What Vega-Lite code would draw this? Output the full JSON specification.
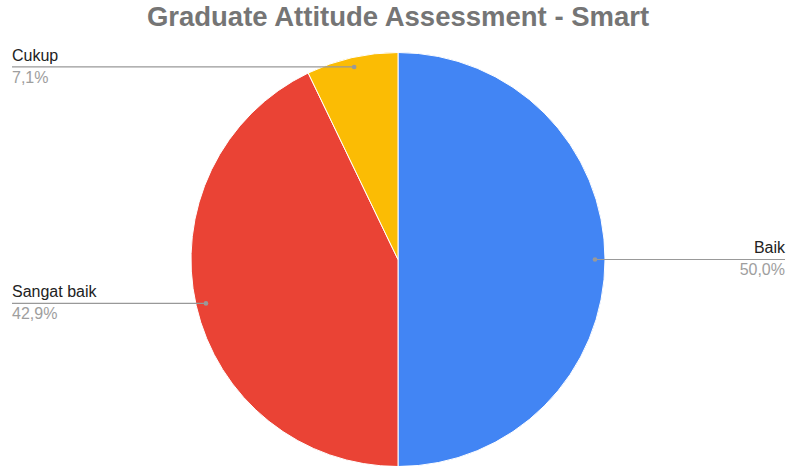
{
  "$schema": "https://vega.github.io/schema/vega-lite/v6.json",
  "autosize": {"type": "fit", "contains": "padding"},
  "width": 787,
  "height": 466,
  "padding": {"left": 9, "top": 6, "right": 0, "bottom": 0},
  "background": "white",
  "title": {
    "text": "Graduate Attitude Assessment - Smart",
    "font": "Liberation Sans",
    "fontSize": 27.5,
    "fontWeight": "bold",
    "color": "#757575",
    "anchor": "middle",
    "offset": 16
  },
  "config": {"view": {"stroke": null}},
  "data": {
    "values": [
      {"category": "Baik", "value": 7, "order": 1},
      {"category": "Sangat baik", "value": 6, "order": 2},
      {"category": "Cukup", "value": 1, "order": 3}
    ]
  },
  "transform": [
    {"joinaggregate": [{"op": "sum", "field": "value", "as": "total"}]},
    {"window": [{"op": "sum", "field": "value", "as": "cum"}], "sort": [{"field": "order"}], "frame": [null, 0]},
    {"calculate": "(datum.cum - datum.value / 2) / datum.total * 2 * PI", "as": "mid"},
    {"calculate": "197 * sin(datum.mid)", "as": "dotX"},
    {"calculate": "197 * cos(datum.mid)", "as": "dotY"},
    {"calculate": "datum.dotX >= 0 ? 1 : -1", "as": "side"},
    {"calculate": "datum.side > 0 ? 387 : -386", "as": "labelX"},
    {"calculate": "replace(format(datum.value / datum.total, '.1%'), '.', ',')", "as": "pctLabel"}
  ],
  "layer": [
    {
      "mark": {"type": "arc", "radius": 207, "stroke": "white", "strokeWidth": 1},
      "encoding": {
        "theta": {"field": "value", "type": "quantitative", "stack": true},
        "order": {"field": "order", "type": "quantitative"},
        "color": {
          "field": "category",
          "type": "nominal",
          "scale": {"domain": ["Baik", "Sangat baik", "Cukup"], "range": ["#4285F4", "#EA4335", "#FBBC04"]},
          "legend": null
        }
      }
    },
    {
      "mark": {"type": "rule", "color": "#999999", "strokeWidth": 1.2},
      "encoding": {
        "x": {"field": "labelX", "type": "quantitative", "scale": {"domain": [-389, 389], "zero": false, "nice": false}, "axis": null},
        "x2": {"field": "dotX"},
        "y": {"field": "dotY", "type": "quantitative", "scale": {"domain": [-206, 206], "zero": false, "nice": false}, "axis": null}
      }
    },
    {
      "mark": {"type": "point", "filled": true, "color": "#999999", "size": 22, "opacity": 1},
      "encoding": {
        "x": {"field": "dotX", "type": "quantitative"},
        "y": {"field": "dotY", "type": "quantitative"}
      }
    },
    {
      "transform": [{"filter": "datum.side > 0"}],
      "mark": {"type": "text", "align": "right", "baseline": "middle", "dy": -12, "font": "Liberation Sans", "fontSize": 16, "color": "#222222"},
      "encoding": {
        "x": {"field": "labelX", "type": "quantitative"},
        "y": {"field": "dotY", "type": "quantitative"},
        "text": {"field": "category"}
      }
    },
    {
      "transform": [{"filter": "datum.side > 0"}],
      "mark": {"type": "text", "align": "right", "baseline": "middle", "dy": 10, "font": "Liberation Sans", "fontSize": 16, "color": "#9e9e9e"},
      "encoding": {
        "x": {"field": "labelX", "type": "quantitative"},
        "y": {"field": "dotY", "type": "quantitative"},
        "text": {"field": "pctLabel"}
      }
    },
    {
      "transform": [{"filter": "datum.side < 0"}],
      "mark": {"type": "text", "align": "left", "baseline": "middle", "dy": -11, "font": "Liberation Sans", "fontSize": 16, "color": "#222222"},
      "encoding": {
        "x": {"field": "labelX", "type": "quantitative"},
        "y": {"field": "dotY", "type": "quantitative"},
        "text": {"field": "category"}
      }
    },
    {
      "transform": [{"filter": "datum.side < 0"}],
      "mark": {"type": "text", "align": "left", "baseline": "middle", "dy": 11, "font": "Liberation Sans", "fontSize": 16, "color": "#9e9e9e"},
      "encoding": {
        "x": {"field": "labelX", "type": "quantitative"},
        "y": {"field": "dotY", "type": "quantitative"},
        "text": {"field": "pctLabel"}
      }
    }
  ]
}
